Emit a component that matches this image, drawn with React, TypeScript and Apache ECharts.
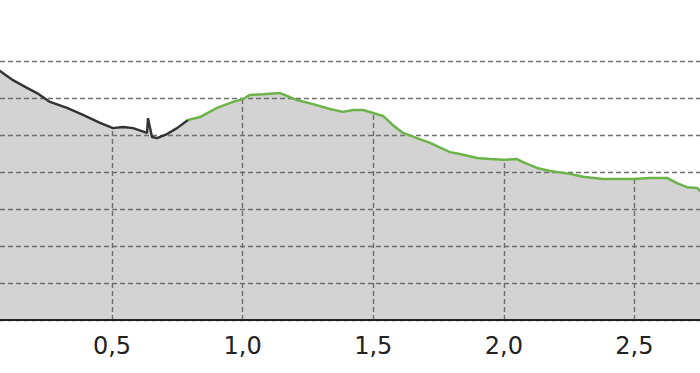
import React, { useEffect, useRef } from "react";
import * as echarts from "echarts";

const distances = [0.0, 0.0712, 0.121, 0.1746, 0.2129, 0.2626, 0.3277, 0.389, 0.4541, 0.5038, 0.5421, 0.5804, 0.634, 0.6378, 0.6531, 0.6723, 0.7106, 0.7489, 0.7909, 0.8369, 0.902, 0.9632, 1.0015, 1.0283, 1.0781, 1.1432, 1.17, 1.2083, 1.2695, 1.3346, 1.3844, 1.4227, 1.461, 1.4993, 1.5375, 1.5758, 1.6141, 1.6677, 1.7175, 1.794, 1.8323, 1.8974, 1.9472, 1.9969, 2.0505, 2.0735, 2.1271, 2.1769, 2.2534, 2.3032, 2.3798, 2.4946, 2.5597, 2.6248, 2.6631, 2.7014, 2.7397, 2.7511, 2.8];
const elevations = [69.5, 67.5, 65.0, 62.9, 61.5, 59.1, 57.5, 55.6, 53.4, 52.0, 52.3, 52.0, 50.7, 54.7, 49.6, 49.3, 50.4, 52.0, 54.2, 55.0, 57.5, 59.1, 59.9, 61.0, 61.2, 61.5, 60.7, 59.6, 58.5, 57.2, 56.4, 56.9, 56.9, 56.1, 55.3, 52.8, 50.7, 49.3, 48.0, 45.5, 45.0, 43.9, 43.6, 43.4, 43.6, 42.8, 41.2, 40.4, 39.6, 38.8, 38.2, 38.2, 38.5, 38.5, 37.1, 36.0, 35.8, 35.0, 34.0];
const splitIndex = 18; // dark section ends / green section begins
const xTicks = [0.5, 1.0, 1.5, 2.0, 2.5];
const xViewMin = 0.0712;
const xViewMax = 2.7511;

function interp(x: number): number {
  for (let i = 0; i < distances.length - 1; i++) {
    if (x >= distances[i] && x <= distances[i + 1]) {
      const t = (x - distances[i]) / (distances[i + 1] - distances[i]);
      return elevations[i] + t * (elevations[i + 1] - elevations[i]);
    }
  }
  return elevations[elevations.length - 1];
}

export default function App() {
  const ref = useRef<HTMLDivElement>(null);
  useEffect(() => {
    document.body.style.margin = "0";
    if (!ref.current) return;
    const chart = echarts.init(ref.current, undefined, { renderer: "svg" });
    const all = distances.map((d, i) => [d, elevations[i]]);
    const dark = all.slice(0, splitIndex + 1);
    const green = all.slice(splitIndex);
    chart.setOption({
      animation: false,
      grid: { left: 0, right: 0, top: 61.7, height: 258.3, containLabel: false },
      xAxis: {
        type: "value",
        min: xViewMin,
        max: xViewMax,
        z: 6,
        axisLine: { show: true, lineStyle: { color: "#222", width: 2 } },
        axisTick: { show: false, customValues: xTicks },
        splitLine: { show: false },
        axisLabel: {
          show: true,
          customValues: xTicks,
          margin: 14,
          fontSize: 24,
          fontFamily: "DejaVu Sans",
          color: "#222",
          formatter: (v: number) => v.toFixed(1).replace(".", ","),
        },
      },
      yAxis: {
        type: "value",
        min: 0,
        max: 70,
        interval: 10,
        z: 3,
        axisLine: { show: false },
        axisTick: { show: false },
        axisLabel: { show: false },
        splitLine: { show: true, lineStyle: { color: "#6f6f6f", width: 1.4, type: [5, 3] } },
      },
      series: [
        {
          type: "line",
          data: all,
          symbol: "none",
          z: 1,
          lineStyle: { width: 0 },
          areaStyle: { color: "#d3d3d3", opacity: 1 },
          silent: true,
        },
        {
          type: "line",
          data: dark,
          symbol: "none",
          z: 5,
          lineStyle: { color: "#333333", width: 2.4 },
          silent: true,
        },
        {
          type: "line",
          data: green,
          symbol: "none",
          z: 5,
          lineStyle: { color: "#6cb34a", width: 2.5 },
          silent: true,
          markLine: {
            silent: true,
            symbol: "none",
            label: { show: false },
            lineStyle: { color: "#6f6f6f", width: 1.4, type: [5, 3] },
            data: xTicks.map((t) => [
              { coord: [t, 0] },
              { coord: [t, interp(t)] },
            ]),
          },
        },
      ],
    });
    return () => chart.dispose();
  }, []);
  return <div ref={ref} style={{ width: 700, height: 373 }} />;
}
